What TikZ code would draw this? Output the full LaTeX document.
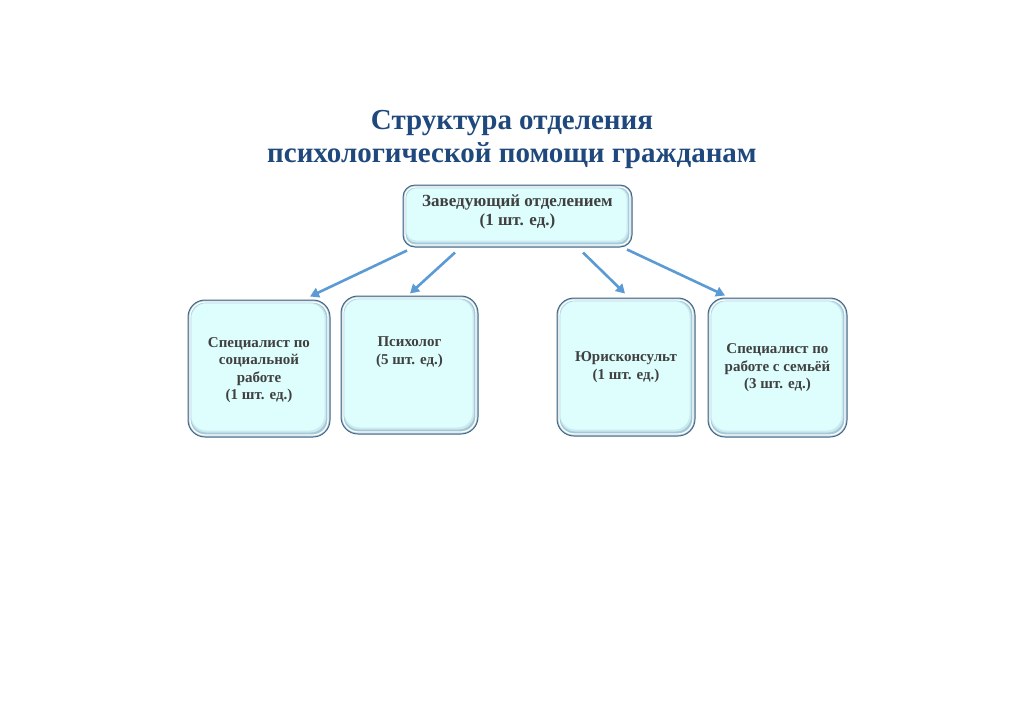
\documentclass[tikz,border=0pt]{standalone}
\usepackage{fontspec}
\setmainfont{Liberation Serif}
\usetikzlibrary{arrows.meta}
\definecolor{titleblue}{RGB}{31,73,125}
\definecolor{arrowblue}{RGB}{91,155,213}
\definecolor{boxedge}{RGB}{70,105,135}
\definecolor{boxfill}{RGB}{222,253,253}
\definecolor{boxshade}{RGB}{165,200,215}
\definecolor{txtgray}{RGB}{64,64,64}
\begin{document}
\begin{tikzpicture}[x=1pt,y=-1pt,
  cardbox/.style={draw=boxedge, line width=1pt, rounded corners=17pt,
    fill=boxshade, inner sep=0pt},
  cardtext/.style={font=\bfseries\fontsize{15}{17.5}\selectfont, text=txtgray, align=center},
  arr/.style={draw=arrowblue, line width=2.6pt, -{Triangle[length=9pt,width=10pt]}}]
\useasboundingbox[fill=white] (0,0) rectangle (1024,724);
% title
\node[font=\bfseries\fontsize{29}{33}\selectfont, text=titleblue, align=center] (title) at (512,139)
  {Структура отделения\\психологической помощи гражданам};
% boxes
\node[cardbox, minimum width=229pt, minimum height=62pt, rounded corners=12pt] (top) at (517.5,216) {};
\node[cardbox, minimum width=142pt, minimum height=137pt] (b1) at (259,368.5) {};
\node[cardbox, minimum width=137pt, minimum height=138pt] (b2) at (409.5,365) {};
\node[cardbox, minimum width=138pt, minimum height=138pt] (b3) at (626,367) {};
\node[cardbox, minimum width=139pt, minimum height=139pt] (b4) at (777.5,367.5) {};
% inner white highlight and light face
\foreach \n/\r in {top/10pt,b1/15pt,b2/15pt,b3/15pt,b4/15pt}{
  \draw[white, line width=1.3pt, rounded corners=\r]
    ([shift={(2.5pt,-2.5pt)}]\n.north west) rectangle ([shift={(-2.5pt,2.5pt)}]\n.south east);
  \fill[boxfill!65!boxshade, rounded corners=\r]
    ([shift={(3.5pt,-3.5pt)}]\n.north west) rectangle ([shift={(-4.5pt,5pt)}]\n.south east);
  \fill[boxfill, rounded corners=\r]
    ([shift={(4pt,-4pt)}]\n.north west) rectangle ([shift={(-6pt,7pt)}]\n.south east);
}
% texts
\node[cardtext, font=\bfseries\fontsize{17}{19}\selectfont] (ttop) at (517.5,212) {Заведующий отделением\\(1 шт. ед.)};
\node[cardtext] (t1) at (259,370) {Специалист по\\социальной\\работе\\(1 шт. ед.)};
\node[cardtext] (t2) at (409.5,352) {Психолог\\(5 шт. ед.)};
\node[cardtext] (t3) at (626,367) {Юрисконсульт\\(1 шт. ед.)};
\node[cardtext] (t4) at (777.5,368) {Специалист по\\работе с семьёй\\(3 шт. ед.)};
% arrows
\draw[arr] ([xshift=-110.5pt,yshift=-3pt]top.south) -- ([xshift=51pt,yshift=3pt]b1.north);
\draw[arr] ([xshift=-62.5pt,yshift=-5pt]top.south) -- ([xshift=0.5pt,yshift=2pt]b2.north);
\draw[arr] ([xshift=65.5pt,yshift=-5pt]top.south) -- ([xshift=-1pt,yshift=4pt]b3.north);
\draw[arr] ([xshift=109.5pt,yshift=-2pt]top.south) -- ([xshift=-52.5pt,yshift=2pt]b4.north);
\end{tikzpicture}
\end{document}
